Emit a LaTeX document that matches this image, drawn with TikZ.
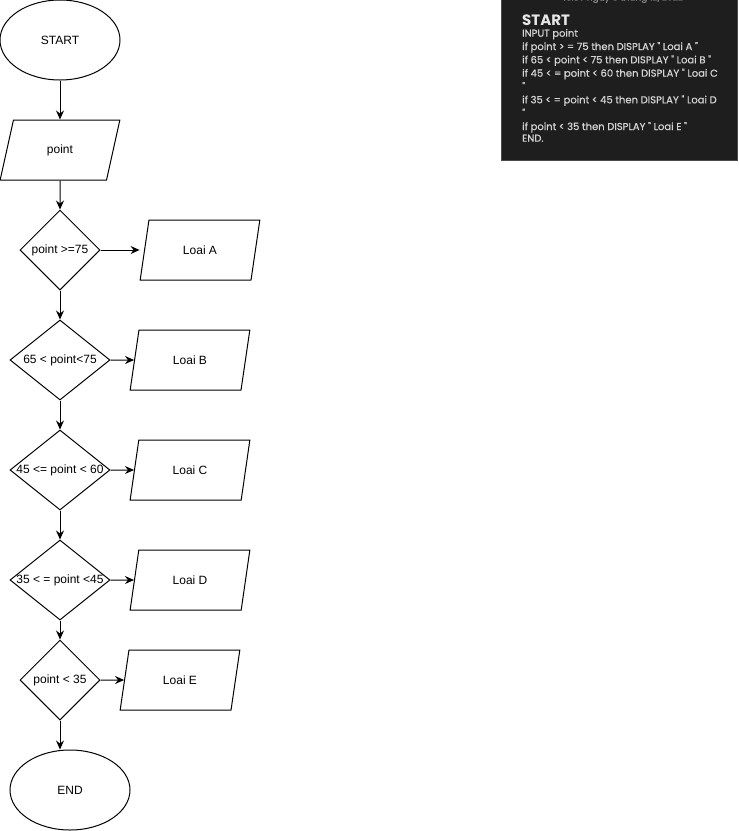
\documentclass[tikz,border=0pt]{standalone}
\usepackage{fontspec}
\setmainfont{Liberation Sans}
\newfontfamily\boxfont[FakeBold=0.6]{Poppins}
\newfontfamily\boxheadfont{Poppins}
\usetikzlibrary{shapes.geometric,arrows.meta}
\definecolor{panel}{HTML}{1E1E1E}
\definecolor{panelborder}{HTML}{4A4A4A}
\definecolor{paneltext}{HTML}{D4D4D4}
\definecolor{panelhead}{HTML}{E6E6E6}
\definecolor{paneldate}{HTML}{8A8A8A}
\begin{document}
\begin{tikzpicture}[x=1pt,y=-1pt,
  every node/.style={font=\fontsize{12}{14}\selectfont},
  term/.style={ellipse, draw, line width=1pt, minimum width=120pt, minimum height=80pt, inner sep=0pt},
  io/.style={trapezium, trapezium left angle=71.565, trapezium right angle=108.435, trapezium stretches=true, draw, line width=1pt, minimum width=120pt, minimum height=60pt, inner sep=0pt},
  dec/.style={diamond, draw, line width=1pt, inner sep=0pt, minimum height=80pt},
  flow/.style={line width=1pt, -{Stealth[length=9pt,width=8pt,inset=3pt]}},
  code/.style={anchor=base west, inner sep=0pt, text=paneltext, font=\boxfont\fontsize{10}{11}\selectfont},
]
\useasboundingbox (0,0) rectangle (739,831);

% code panel
\begin{scope}
\clip (500,0) rectangle (739,162);
\draw[fill=panel, draw=panelborder, line width=1pt] (501.5,-5) rectangle (737.5,160.5);
\node[anchor=base, inner sep=0pt, text=paneldate, font=\boxfont\fontsize{9}{10}\selectfont] (date) at (623,0.5) {16:30 ngày 5 tháng 12, 2022};
\end{scope}
\node[code, text=panelhead, font=\boxheadfont\bfseries\fontsize{15}{16}\selectfont] (l0) at (522,25) {START};
\node[code] (l1) at (522,36.7) {INPUT point};
\node[code] (l2) at (522,50) {if point > = 75 then DISPLAY " Loai A "};
\node[code] (l3) at (522,63.3) {if 65 < point < 75 then DISPLAY " Loai B "};
\node[code] (l4) at (522,76.7) {if 45 < = point < 60 then DISPLAY " Loai C};
\node[code] (l5) at (522,90) {"};
\node[code] (l6) at (522,103.3) {if 35 < = point < 45 then DISPLAY " Loai D};
\node[code] (l7) at (522,116.7) {"};
\node[code] (l8) at (522,130) {if point < 35 then DISPLAY " Loai E "};
\node[code] (l9) at (522,141.7) {END.};

% flowchart
\node[term] (start) at (60,40) {START};
\node[io] (pt) at (60,150) {point};
\node[dec, minimum width=80pt] (d1) at (60,250) {\makebox[0pt]{point >=75}};
\node[dec, minimum width=100pt] (d2) at (60,360) {\makebox[0pt]{65 < point<75}};
\node[dec, minimum width=100pt] (d3) at (60,470) {\makebox[0pt]{45 <= point < 60}};
\node[dec, minimum width=100pt] (d4) at (60,580) {\makebox[0pt]{35 < = point <45}};
\node[dec, minimum width=80pt] (d5) at (60,680) {\makebox[0pt]{point < 35}};
\node[term] (end) at (70,790) {END};

\node[io] (A) at (200,250) {Loai A};
\node[io] (B) at (190,360) {Loai B};
\node[io] (C) at (190,470) {Loai C};
\node[io] (D) at (190,580) {Loai D};
\node[io] (E) at (180,680) {Loai E};
\coordinate (Ain) at (A.bottom left corner |- A.center);

\draw[flow] (start) -- (pt);
\draw[flow] (pt) -- (d1);
\draw[flow] (d1) -- (d2);
\draw[flow] (d2) -- (d3);
\draw[flow] (d3) -- (d4);
\draw[flow] (d4) -- (d5);
\draw[flow] (d5.south) -- (d5.south |- end.north);
\draw[flow] (d1.east) -- (Ain);
\draw[flow] (d2) -- (B);
\draw[flow] (d3) -- (C);
\draw[flow] (d4) -- (D);
\draw[flow] (d5) -- (E);
\end{tikzpicture}
\end{document}
